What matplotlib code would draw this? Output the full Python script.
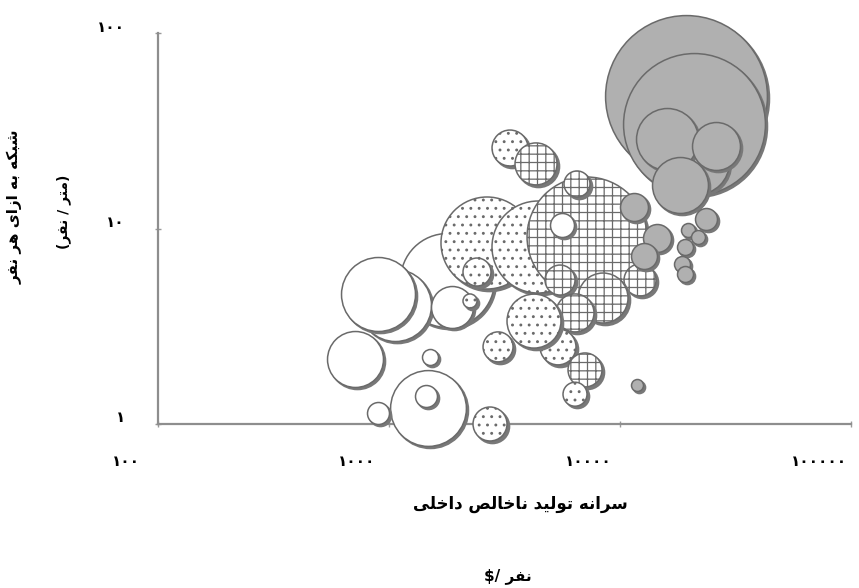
import matplotlib

matplotlib.use("Agg")
import matplotlib.pyplot as plt
from matplotlib.transforms import ScaledTranslation, blended_transform_factory, offset_copy

# per-capita GDP ($/person), road network per person (m/person), bubble area, fill group
gdp = [1783, 1062, 896, 713, 1874, 1505, 1475, 1446, 896,
       2656, 2404, 2242, 4416, 3341, 4329, 7197, 6514, 5610,
       5500, 12210, 8443, 6386, 5390, 2965, 4243, 2737, 7056, 6386,
       19310, 20910, 21540, 15980, 26030, 18180, 23570, 19700, 21770,
       19110, 18550, 19110, 11500, 14460, 12700, 11850]
road = [5.45, 4.06, 4.62, 2.15, 3.97, 2.20, 1.21, 1.39, 1.14,
        8.43, 5.99, 4.26, 8.04, 25.8, 21.4, 9.05, 16.9, 10.4,
        5.45, 5.45, 4.41, 3.70, 2.48, 2.48, 3.36, 1.00, 1.89, 1.42,
        47.6, 34.2, 21.9, 28.7, 26.4, 16.7, 11.2, 9.82, 9.05,
        8.04, 6.58, 5.85, 12.9, 8.94, 7.23, 1.58]
pop = [221, 130, 137, 78.4, 44.1, 6.4, 144, 12.1, 12.1,
       212, 19.6, 4.9, 212, 32.4, 44.1, 360, 16.9, 14.4,
       22.5, 25.6, 62.5, 36.1, 32.4, 22.5, 72.9, 28.9, 28.9, 14.4,
       656, 504, 102, 96.1, 57.6, 78.4, 12.1, 4.9, 4.9,
       6.4, 6.4, 6.4, 19.6, 19.6, 16.9, 3.6]
group = ["white"] * 9 + ["dot", "dot", "dot", "dot", "dot", "grid", "grid", "grid", "white",
                         "grid", "grid", "grid", "grid", "dot", "dot", "dot", "dot", "grid", "dot"] + ["gray"] * 16

x_ticks = [100, 1000, 10000, 100000]
x_tick_labels = ["۱۰۰", "۱۰۰۰", "۱۰۰۰۰", "۱۰۰۰۰۰"]
y_ticks = [1, 10, 100]
y_tick_labels = ["۱", "۱۰", "۱۰۰"]

x_title = "سرانه تولید ناخالص داخلی"
x_unit = "نفر"
y_title = "شبکه به ازای هر نفر"
y_unit = "(متر / نفر)"

# contextual forms: isolated, final, initial, medial
FORMS = {
    "ا": (0xFE8D, 0xFE8E, None, None),
    "ب": (0xFE8F, 0xFE90, 0xFE91, 0xFE92),
    "ت": (0xFE95, 0xFE96, 0xFE97, 0xFE98),
    "خ": (0xFEA5, 0xFEA6, 0xFEA7, 0xFEA8),
    "د": (0xFEA9, 0xFEAA, None, None),
    "ر": (0xFEAD, 0xFEAE, None, None),
    "ز": (0xFEAF, 0xFEB0, None, None),
    "س": (0xFEB1, 0xFEB2, 0xFEB3, 0xFEB4),
    "ش": (0xFEB5, 0xFEB6, 0xFEB7, 0xFEB8),
    "ص": (0xFEB9, 0xFEBA, 0xFEBB, 0xFEBC),
    "ف": (0xFED1, 0xFED2, 0xFED3, 0xFED4),
    "ل": (0xFEDD, 0xFEDE, 0xFEDF, 0xFEE0),
    "م": (0xFEE1, 0xFEE2, 0xFEE3, 0xFEE4),
    "ن": (0xFEE5, 0xFEE6, 0xFEE7, 0xFEE8),
    "ه": (0xFEE9, 0xFEEA, 0xFEEB, 0xFEEC),
    "و": (0xFEED, 0xFEEE, None, None),
    "ک": (0xFB8E, 0xFB8F, 0xFB90, 0xFB91),
    "ی": (0xFBFC, 0xFBFD, 0xFBFE, 0xFBFF),
}


def shape(text):
    """Join Persian letters and lay them out right to left."""
    out = []
    for i, ch in enumerate(text):
        if ch not in FORMS:
            out.append(ch)
            continue
        iso, fin, ini, med = FORMS[ch]
        prev = text[i - 1] if i > 0 else ""
        nxt = text[i + 1] if i + 1 < len(text) else ""
        join_prev = prev in FORMS and FORMS[prev][2] is not None
        join_next = nxt in FORMS and ini is not None
        if join_prev and join_next:
            code = med
        elif join_prev:
            code = fin
        elif join_next:
            code = ini
        else:
            code = iso
        out.append(chr(code))
    vis = "".join(reversed(out))
    return vis.translate(str.maketrans("()", ")("))


plt.rcParams["font.family"] = ["DejaVu Sans"]
plt.rcParams["hatch.linewidth"] = 0.9

fig = plt.figure(figsize=(8.59, 5.88), dpi=100)
ax = fig.add_axes([158 / 859, 164 / 588, 693 / 859, 391 / 588])
ax.set_xscale("log")
ax.set_yscale("log")
ax.set_xlim(100, 100000)
ax.set_ylim(1, 100)

# fill, hatch pattern and hatch colour for each group
styles = {
    "white": ("white", None, "#7d7d7d"),
    "dot": ("white", "..", "#a5a5a5"),
    "grid": ("white", "++", "#7d7d7d"),
    "gray": ("#b0b0b0", None, "#7d7d7d"),
}

shadow_tr = offset_copy(ax.transData, fig=fig, x=2, y=-2, units="dots")
z = 2
for gx, ry, p, g in zip(gdp, road, pop, group):
    s = p * 20.7
    face, hatch, hcol = styles[g]
    ax.scatter([gx], [ry], s=s, c="#787878", edgecolors="#787878", linewidths=1.2,
               transform=shadow_tr, clip_on=False, zorder=z)
    plt.rcParams["hatch.color"] = hcol
    ax.scatter([gx], [ry], s=s, facecolors=face, hatch=hatch, edgecolors="#6a6a6a",
               linewidths=1.1, clip_on=False, zorder=z + 1)
    z += 2

for side in ["top", "right"]:
    ax.spines[side].set_visible(False)
for side in ["left", "bottom"]:
    ax.spines[side].set_color("#8e8e8e")
    ax.spines[side].set_linewidth(1.6)

ax.set_xticks(x_ticks)
ax.set_yticks(y_ticks)
ax.minorticks_off()
ax.set_xticklabels([])
ax.set_yticklabels([])
ax.tick_params(direction="inout", length=4, width=1, color="#9a9a9a")

xt = blended_transform_factory(ax.transData, ax.transAxes)
for v, lab in zip(x_ticks, x_tick_labels):
    ax.text(v, 0, lab, transform=xt + ScaledTranslation(-0.32, -0.38, fig.dpi_scale_trans),
            ha="center", va="center", fontsize=11, fontweight="bold")
yt = blended_transform_factory(ax.transAxes, ax.transData)
for v, lab in zip(y_ticks, y_tick_labels):
    ax.text(0, v, lab, transform=yt + ScaledTranslation(-0.33, 0.06, fig.dpi_scale_trans),
            ha="right", va="center", fontsize=11, fontweight="bold")

fig.text(520 / 859, 1 - 504 / 588, shape(x_title), ha="center", va="center",
         fontsize=12, fontweight="bold")
fig.text(508 / 859, 1 - 576 / 588, "$/ " + shape(x_unit), ha="center", va="center",
         fontsize=11, fontweight="bold")
fig.text(15 / 859, 1 - 207 / 588, shape(y_title), rotation=90, ha="center", va="center",
         fontsize=11, fontweight="bold")
fig.text(64 / 859, 1 - 212 / 588, shape(y_unit), rotation=90, ha="center", va="center",
         fontsize=10, fontweight="bold")

fig.savefig("out.png", dpi=100)
